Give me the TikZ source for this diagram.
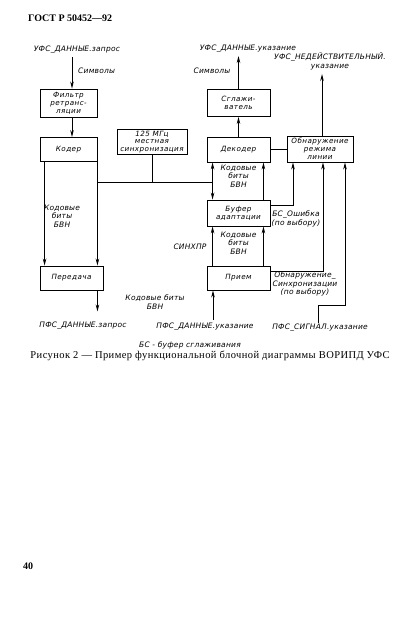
\documentclass[tikz,border=0pt]{standalone}
\usepackage{fontspec}
\setmainfont{Liberation Serif}
\setsansfont{DejaVu Sans}
\usetikzlibrary{arrows.meta,calc,positioning}

\begin{document}
\begin{tikzpicture}[x=1pt,y=-1pt,
    block/.style={draw, line width=0.9pt, inner sep=1pt, align=center,
      font=\sffamily\itshape\fontsize{7.2}{7.9}\selectfont\addfontfeature{LetterSpace=6}},
    lbl/.style={inner sep=0pt, align=center,
      font=\sffamily\itshape\fontsize{7.5}{8.6}\selectfont\addfontfeature{LetterSpace=3}},
    link/.style={line width=0.9pt, -{Stealth[length=7pt,width=3.5pt]}},
    biglink/.style={line width=0.9pt, {Stealth[length=7pt,width=3.5pt]}-{Stealth[length=7pt,width=3.5pt]}},
    wire/.style={line width=0.9pt}]
  \useasboundingbox (0,0) rectangle (418,632);

  % Page header
  \node[anchor=west, inner sep=0pt, font=\rmfamily\bfseries\fontsize{10}{12}\selectfont] (head) at (28,18) {ГОСТ Р 50452—92};

  % Blocks
  \node[block, minimum width=57, minimum height=28] (filter) at (68.5,103) {Фильтр\\ретранс-\\ляции};
  \node[block, minimum width=57, minimum height=24] (coder) at (68.5,149.5) {Кодер};
  \node[block, minimum width=70, minimum height=25] (clock) at (152,142) {125 МГц\\местная\\синхронизация};
  \node[block, minimum width=63, minimum height=24] (transmit) at (71.5,278) {Передача};
  \node[block, minimum width=63, minimum height=27] (smoother) at (238.5,103) {Сглажи-\\ватель};
  \node[block, minimum width=63, minimum height=25] (decoder) at (238.5,149.5) {Декодер};
  \node[block, minimum width=66, minimum height=26] (detect) at (320,149) {Обнаружение\\режима\\линии};
  \node[block, minimum width=63, minimum height=26] (buffer) at (238.5,213) {Буфер\\адаптации};
  \node[block, minimum width=63, minimum height=24] (receive) at (238.5,278) {Прием};

  % Transmit path
  \coordinate (reqIn) at (72,57);
  \draw[link] (reqIn) -- (reqIn |- filter.north);
  \draw[link] (reqIn |- filter.south) -- (reqIn |- coder.north);
  \draw[link] ([xshift=5pt]coder.south west) coordinate (codL) -- (codL |- transmit.north);
  \draw[link] (coder.south east) coordinate (codR) -- (codR |- transmit.north);
  \draw[link] ([xshift=-6pt]transmit.south east) -- ++(0,21);

  % Receive path
  \coordinate (rxIn) at (213,320);
  \draw[link] (rxIn) -- (rxIn |- receive.south);
  \draw[link] ([xshift=6pt]receive.north west) coordinate (rxL) -- (rxL |- buffer.south);
  \draw[link] ([xshift=-7pt]receive.north east) coordinate (rxR) -- (rxR |- buffer.south);
  \draw[biglink] ([xshift=6pt]buffer.north west) coordinate (bufL) -- (bufL |- decoder.south);
  \draw[link] ([xshift=-7pt]buffer.north east) coordinate (bufR) -- (bufR |- decoder.south);
  \draw[link] (decoder.north) -- (smoother.south);
  \coordinate (indOut) at (238.5,56);
  \draw[link] (smoother.north) -- (indOut);

  % Clock distribution
  \coordinate (clk) at (152,182);
  \draw[wire] (clock.south) -- (clk);
  \draw[wire] (clk -| codR) -- (clk -| bufL);

  % Line mode detection
  \draw[wire] (decoder.east) -- (decoder.east -| detect.west);
  \coordinate (invOut) at (322,74);
  \draw[link] (invOut |- detect.north) -- (invOut);
  \draw[link] ([yshift=8pt]buffer.east) -| ([xshift=-27pt]detect.south);
  \draw[link] ([yshift=-6pt]receive.north east) -| ([xshift=3pt]detect.south);
  \coordinate (sigIn) at (318,323);
  \draw[link] (sigIn) -- ++(0,-18) -| ([xshift=25pt]detect.south);

  % Signal labels
  \node[lbl] (reqTop) at (77,50) {УФС\_ДАННЫЕ.запрос};
  \node[lbl, anchor=west] (symIn) at (78,71) {Символы};
  \node[lbl] (indTop) at (248,49) {УФС\_ДАННЫЕ.указание};
  \node[lbl] (symOut) at (212,71) {Символы};
  \node[lbl] (invTop) at (330,61) {УФС\_НЕДЕЙСТВИТЕЛЬНЫЙ.\\указание};
  \node[lbl] (bitsTx) at (62,216) {Кодовые\\биты\\БВН};
  \node[lbl] (bitsDec) at (238.5,176) {Кодовые\\биты\\БВН};
  \node[lbl] (bitsRx) at (238.5,243) {Кодовые\\биты\\БВН};
  \node[lbl] (sync) at (190,247) {СИНХПР};
  \node[lbl] (bufErr) at (296,219) {БС\_Ошибка\\(по выбору)};
  \node[lbl] (syncDet) at (305,284) {Обнаружение\_\\Синхронизации\\(по выбору)};
  \node[lbl] (bitsLine) at (155,302) {Кодовые биты\\БВН};
  \node[lbl] (reqBot) at (83,326) {ПФС\_ДАННЫЕ.запрос};
  \node[lbl] (indBot) at (205,327) {ПФС\_ДАННЫЕ.указание};
  \node[lbl] (sigBot) at (320,328) {ПФС\_СИГНАЛ.указание};
  \node[lbl] (legend) at (190,345) {БС - буфер сглаживания};

  % Caption and page number
  \node[inner sep=0pt, font=\rmfamily\fontsize{10.5}{12}\selectfont\addfontfeature{LetterSpace=4}] (caption) at (210,356) {Рисунок 2 — Пример функциональной блочной диаграммы ВОРИПД УФС};
  \node[anchor=west, inner sep=0pt, font=\rmfamily\bfseries\fontsize{10}{12}\selectfont] (page) at (23,566) {40};
\end{tikzpicture}
\end{document}
